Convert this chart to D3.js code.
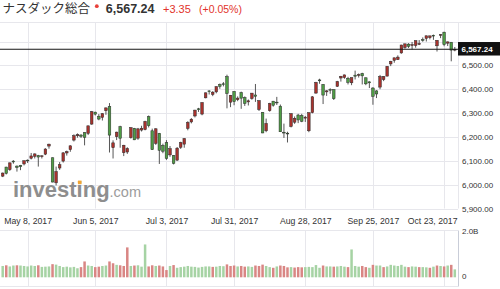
<!DOCTYPE html>
<html><head><meta charset="utf-8">
<script src="https://cdn.jsdelivr.net/npm/d3@7"></script>
<style>
html,body{margin:0;padding:0;background:#fff;}
svg{display:block;font-family:"Liberation Sans",Arial,sans-serif;}
</style></head><body>
<svg id="c" width="500" height="289"></svg>
<script>
// ---------- data ----------
const dates = [
"2017-04-27","2017-04-28",
"2017-05-01","2017-05-02","2017-05-03","2017-05-04","2017-05-05",
"2017-05-08","2017-05-09","2017-05-10","2017-05-11","2017-05-12",
"2017-05-15","2017-05-16","2017-05-17","2017-05-18","2017-05-19",
"2017-05-22","2017-05-23","2017-05-24","2017-05-25","2017-05-26",
"2017-05-30","2017-05-31","2017-06-01","2017-06-02",
"2017-06-05","2017-06-06","2017-06-07","2017-06-08","2017-06-09",
"2017-06-12","2017-06-13","2017-06-14","2017-06-15","2017-06-16",
"2017-06-19","2017-06-20","2017-06-21","2017-06-22","2017-06-23",
"2017-06-26","2017-06-27","2017-06-28","2017-06-29","2017-06-30",
"2017-07-03","2017-07-05","2017-07-06","2017-07-07",
"2017-07-10","2017-07-11","2017-07-12","2017-07-13","2017-07-14",
"2017-07-17","2017-07-18","2017-07-19","2017-07-20","2017-07-21",
"2017-07-24","2017-07-25","2017-07-26","2017-07-27","2017-07-28",
"2017-07-31","2017-08-01","2017-08-02","2017-08-03","2017-08-04",
"2017-08-07","2017-08-08","2017-08-09","2017-08-10","2017-08-11",
"2017-08-14","2017-08-15","2017-08-16","2017-08-17","2017-08-18",
"2017-08-21","2017-08-22","2017-08-23","2017-08-24","2017-08-25",
"2017-08-28","2017-08-29","2017-08-30","2017-08-31","2017-09-01",
"2017-09-05","2017-09-06","2017-09-07","2017-09-08",
"2017-09-11","2017-09-12","2017-09-13","2017-09-14","2017-09-15",
"2017-09-18","2017-09-19","2017-09-20","2017-09-21","2017-09-22",
"2017-09-25","2017-09-26","2017-09-27","2017-09-28","2017-09-29",
"2017-10-02","2017-10-03","2017-10-04","2017-10-05","2017-10-06",
"2017-10-09","2017-10-10","2017-10-11","2017-10-12","2017-10-13",
"2017-10-16","2017-10-17","2017-10-18","2017-10-19","2017-10-20",
"2017-10-23","2017-10-24","2017-10-25","2017-10-26"];

const open = [6036,6074,
 6063,6099,6078,6081,6087,
 6103,6111,6119,6122,6119,
 6128,6162,6113,6008,6070,
 6099,6133,6147,6187,6205,
 6208,6218,6215,6254,
 6304,6287,6282,6310,6328,
 6155,6201,6243,6134,6137,
 6197,6236,6195,6229,6231,
 6285,6226,6173,6215,6165,
 6176,6125,6122,6103,
 6157,6170,6236,6263,6288,
 6318,6296,6364,6393,6378,
 6389,6420,6423,6453,6346,
 6391,6356,6386,6365,6347,
 6361,6376,6315,6303,6226,
 6310,6350,6346,6329,6220,
 6216,6244,6262,6292,6290,
 6279,6226,6302,6384,6439,
 6420,6389,6399,6398,
 6412,6447,6449,6446,6427,
 6459,6458,6466,6448,6431,
 6405,6393,6409,6440,6455,
 6506,6521,6524,6552,6575,
 6589,6583,6583,6588,6608,
 6613,6616,6626,6582,6629,
 6639,6593,6597,6565];

const high = [6051,6075,
 6093,6103,6081,6083,6101,
 6106,6133,6131,6125,6123,
 6153,6172,6114,6076,6095,
 6136,6143,6165,6211,6215,
 6212,6220,6247,6309,
 6306,6296,6300,6324,6342,
 6186,6222,6247,6167,6157,
 6241,6238,6238,6247,6268,
 6290,6235,6236,6217,6172,
 6187,6162,6124,6158,
 6180,6195,6266,6279,6314,
 6322,6345,6386,6396,6392,
 6412,6424,6430,6461,6376,
 6391,6370,6390,6370,6357,
 6384,6422,6354,6304,6277,
 6343,6351,6368,6336,6256,
 6222,6300,6286,6297,6297,
 6288,6303,6371,6431,6444,
 6422,6396,6404,6400,
 6435,6456,6461,6452,6449,
 6478,6466,6469,6449,6433,
 6409,6396,6460,6455,6496,
 6519,6532,6542,6586,6591,
 6593,6598,6604,6606,6617,
 6624,6624,6629,6606,6631,
 6641,6600,6597,6577];

const low = [6032,6043,
 6058,6088,6055,6061,6081,
 6091,6106,6110,6076,6110,
 6124,6151,6010,5997,6062,
 6093,6122,6138,6181,6197,
 6196,6165,6208,6251,
 6290,6270,6269,6293,6135,
 6110,6187,6155,6120,6129,
 6193,6187,6188,6223,6228,
 6240,6146,6167,6087,6132,
 6104,6117,6085,6100,
 6150,6155,6228,6257,6282,
 6305,6291,6362,6378,6371,
 6383,6402,6412,6320,6325,
 6333,6350,6318,6330,6332,
 6356,6347,6309,6216,6220,
 6306,6327,6334,6221,6196,
 6177,6240,6255,6258,6262,
 6263,6220,6299,6381,6423,
 6338,6372,6381,6355,
 6410,6432,6444,6420,6417,
 6441,6449,6420,6417,6405,
 6335,6363,6400,6434,6454,
 6497,6511,6523,6549,6570,
 6573,6566,6574,6585,6599,
 6600,6609,6607,6558,6614,
 6580,6581,6517,6559];

const close = [6048.94,6047.61,
 6091.60,6095.37,6072.55,6075.34,6100.76,
 6102.66,6120.59,6129.14,6115.96,6121.23,
 6149.67,6169.87,6011.24,6055.13,6083.70,
 6133.62,6138.71,6163.02,6205.26,6210.19,
 6203.19,6198.52,6246.83,6305.80,
 6295.68,6275.06,6297.38,6321.76,6207.92,
 6175.46,6220.37,6194.89,6165.50,6151.76,
 6239.01,6188.03,6233.95,6236.69,6265.25,
 6247.15,6146.62,6234.41,6144.35,6140.42,
 6110.06,6150.86,6089.46,6153.08,
 6176.39,6193.31,6261.17,6274.44,6312.47,
 6314.43,6344.31,6385.04,6390.00,6387.75,
 6410.81,6412.17,6422.75,6382.19,6374.68,
 6348.12,6362.94,6362.65,6340.34,6351.56,
 6383.77,6370.46,6352.33,6216.87,6256.56,
 6340.23,6333.01,6345.11,6221.91,6216.53,
 6213.13,6297.48,6278.41,6271.33,6265.64,
 6283.02,6301.89,6368.31,6428.66,6435.33,
 6375.57,6393.31,6397.87,6360.19,
 6432.26,6454.28,6460.19,6429.08,6448.47,
 6454.64,6461.32,6456.04,6422.69,6426.92,
 6370.59,6380.16,6453.45,6453.26,6495.96,
 6516.72,6531.71,6534.63,6585.36,6590.18,
 6579.73,6587.25,6603.55,6591.51,6605.80,
 6624.00,6623.66,6624.22,6605.07,6629.05,
 6586.83,6598.43,6563.89,6567.24];

const prevClose = 6025.23; // close before the first candle

// volume, billions
const volume = [0.50,0.53,
 0.48,0.52,0.53,0.52,0.50,
 0.48,0.52,0.50,0.53,0.46,
 0.47,0.48,0.58,0.56,0.50,
 0.45,0.47,0.44,0.46,0.40,
 0.45,0.70,0.52,0.50,
 0.45,0.47,0.50,0.52,0.70,
 0.62,0.55,0.53,0.50,1.32,
 0.50,0.52,0.53,0.47,1.45,
 0.48,0.53,0.50,0.52,0.48,
 0.32,0.50,0.54,0.42,
 0.45,0.47,0.50,0.47,0.46,
 0.43,0.46,0.48,0.48,0.46,
 0.47,0.50,0.49,0.57,0.50,
 0.52,0.48,0.50,0.47,0.48,
 0.46,0.52,0.50,0.56,0.50,
 0.45,0.42,0.48,0.52,0.50,
 0.44,0.45,0.43,0.45,0.44,
 0.45,0.46,0.45,0.54,0.42,
 0.52,0.48,0.48,0.47,
 0.48,0.50,0.47,0.45,1.23,
 0.50,0.47,0.50,0.45,0.42,
 0.55,0.52,0.52,0.45,0.48,
 0.55,0.52,0.50,0.55,0.47,
 0.45,0.48,0.47,0.45,0.45,
 0.44,0.42,0.47,0.52,0.50,
 0.48,0.52,0.55,0.35];

const tickDates  = ["2017-05-08","2017-06-05","2017-07-03","2017-07-31","2017-08-28","2017-09-25","2017-10-23"];
const tickLabels = ["May 8, 2017","Jun 5, 2017","Jul 3, 2017","Jul 31, 2017","Aug 28, 2017","Sep 25, 2017","Oct 23, 2017"];
const priceGrid   = [5900,6000,6100,6200,6300,6400,6500,6600];
const priceLabels = [5900,6000,6100,6200,6300,6400,6500];
const volTicks = [0, 2];

const title = "ナスダック総合";
const lastPrice = 6567.24;
const change = "+3.35";
const changePct = "(+0.05%)";

// ---------- drawing ----------
const svg = d3.select("#c");
const plotR = 458;
const n = dates.length;
const x = d3.scalePoint().domain(dates).range([2.7, 454.8]);
const y = d3.scaleLinear().domain([5900, 6600]).range([208.6, 41.5]);
const yv = d3.scaleLinear().domain([0, 2]).range([277.3, 232]);
const fmt = d3.format(",.2f");
const gridC = "#e7e7ec";

// header
const hdr = svg.append("g");
hdr.append("text").attr("x", 2.5).attr("y", 12.8)
  .style("font-family", '"Noto Sans CJK JP",sans-serif').style("font-size", "12.5px")
  .attr("fill", "#333").text(title);
hdr.append("circle").attr("cx", 96.8).attr("cy", 6.2).attr("r", 1.9).attr("fill", "#e8403a");
hdr.append("text").attr("x", 105.8).attr("y", 12.8).style("font-size", "12.5px")
  .style("font-weight", "bold").attr("fill", "#333").text(fmt(lastPrice));
hdr.append("text").attr("x", 163).attr("y", 12.6).style("font-size", "11px")
  .attr("fill", "#e2332b").text(change);
hdr.append("text").attr("x", 199).attr("y", 12.6).style("font-size", "10.5px")
  .attr("fill", "#e2332b").text(changePct);

// frame lines
svg.append("line").attr("x1", 0).attr("x2", 500).attr("y1", 22.5).attr("y2", 22.5).attr("stroke", gridC);

// horizontal grid
svg.append("g").selectAll("line").data(priceGrid).join("line")
  .attr("x1", 0).attr("x2", plotR)
  .attr("y1", d => Math.round(y(d)) + 0.5).attr("y2", d => Math.round(y(d)) + 0.5)
  .attr("stroke", gridC);

// vertical grid (price + volume panes)
const vg = svg.append("g");
vg.selectAll("line.p").data(tickDates).join("line").attr("class", "p")
  .attr("x1", d => Math.round(x(d)) + 0.5).attr("x2", d => Math.round(x(d)) + 0.5)
  .attr("y1", 23).attr("y2", 208.5).attr("stroke", gridC);
vg.selectAll("line.v").data(tickDates).join("line").attr("class", "v")
  .attr("x1", d => Math.round(x(d)) + 0.5).attr("x2", d => Math.round(x(d)) + 0.5)
  .attr("y1", 230.5).attr("y2", 286).attr("stroke", gridC);

svg.append("line").attr("x1", plotR + 0.5).attr("x2", plotR + 0.5).attr("y1", 22.5).attr("y2", 208.5).attr("stroke", gridC);
svg.append("line").attr("x1", 0).attr("x2", plotR).attr("y1", 230.5).attr("y2", 230.5).attr("stroke", gridC);
svg.append("line").attr("x1", 0).attr("x2", plotR).attr("y1", 286.5).attr("y2", 286.5).attr("stroke", gridC);
svg.append("line").attr("x1", plotR + 0.5).attr("x2", plotR + 0.5).attr("y1", 230.5).attr("y2", 286.5).attr("stroke", "#c9cdd8");

// watermark
const wm = svg.append("text").attr("x", 13).attr("y", 196.5);
wm.append("tspan").style("font-size", "22px").style("font-weight", "bold").attr("fill", "#8e8e8e").text("investing");
wm.append("tspan").style("font-size", "14.5px").attr("fill", "#9c9c9c").text(".com");
try {
  const ext = wm.node().getExtentOfChar(6);
  svg.append("rect").attr("x", ext.x + 1.4).attr("y", 180.6).attr("width", 3.6).attr("height", 3.6).attr("fill", "#f2a531");
} catch (e) {}

// volume bars
svg.append("g").selectAll("rect").data(d3.range(n)).join("rect")
  .attr("x", i => x(dates[i]) - 1.25).attr("width", 2.5)
  .attr("y", i => yv(volume[i])).attr("height", i => yv(0) - yv(volume[i]))
  .attr("fill", i => close[i] >= (i ? close[i - 1] : prevClose) ? "#a6d3a4" : "#d98684");

// candles
const cg = svg.append("g");
cg.selectAll("line").data(d3.range(n)).join("line")
  .attr("x1", i => x(dates[i])).attr("x2", i => x(dates[i]))
  .attr("y1", i => y(high[i])).attr("y2", i => y(low[i]))
  .attr("stroke", "#444").attr("stroke-width", 0.9);
cg.selectAll("rect").data(d3.range(n)).join("rect")
  .attr("x", i => x(dates[i]) - 1.3).attr("width", 2.6)
  .attr("y", i => y(Math.max(open[i], close[i])))
  .attr("height", i => Math.max(0.8, Math.abs(y(open[i]) - y(close[i]))))
  .attr("fill", i => close[i] >= open[i] ? "#a8322d" : "#4f9d45")
  .attr("stroke", "#2a2a2a").attr("stroke-width", 0.5);

// current price line + box
svg.append("line").attr("x1", 0).attr("x2", plotR).attr("y1", y(lastPrice)).attr("y2", y(lastPrice))
  .attr("stroke", "#151515").attr("stroke-width", 1.1);

// price axis
const ya = svg.append("g").attr("transform", `translate(${plotR},0)`)
  .call(d3.axisRight(y).tickValues(priceLabels).tickFormat(fmt).tickSize(0).tickPadding(4));
ya.select(".domain").remove();
ya.selectAll("text").style("font-size", "8px").style("font-family", '"Liberation Sans",Arial,sans-serif').attr("fill", "#333");

svg.append("rect").attr("x", plotR).attr("y", y(lastPrice) - 7.3).attr("width", 42).attr("height", 13.5).attr("fill", "#111");
svg.append("text").attr("x", plotR + 3.5).attr("y", y(lastPrice) + 2.9)
  .style("font-size", "8px").style("font-weight", "bold").attr("fill", "#fff").text(fmt(lastPrice));

// volume axis
const va = svg.append("g").attr("transform", `translate(${plotR},-1)`)
  .call(d3.axisRight(yv).tickValues(volTicks).tickFormat(d => d === 0 ? "0" : d.toFixed(1) + "B").tickSize(0).tickPadding(4));
va.select(".domain").remove();
va.selectAll("text").style("font-size", "8px").style("font-family", '"Liberation Sans",Arial,sans-serif').attr("fill", "#333");

// date axis
const xa = svg.append("g").attr("transform", "translate(0,224)")
  .call(d3.axisBottom(x).tickValues(tickDates).tickFormat((d, i) => tickLabels[i]).tickSize(0).tickPadding(0));
xa.select(".domain").remove();
xa.selectAll("text").attr("y", 0).attr("dy", null)
  .style("font-size", "8.7px").style("font-family", '"Liberation Sans",Arial,sans-serif').attr("fill", "#333");
xa.selectAll(".tick").each(function (d) {
  const t = d3.select(this).select("text");
  const w = t.node().getComputedTextLength();
  const cx = x(d);
  if (cx + w / 2 > plotR - 1) t.attr("x", (plotR - 1) - w / 2 - cx);
});
</script>
</body></html>
